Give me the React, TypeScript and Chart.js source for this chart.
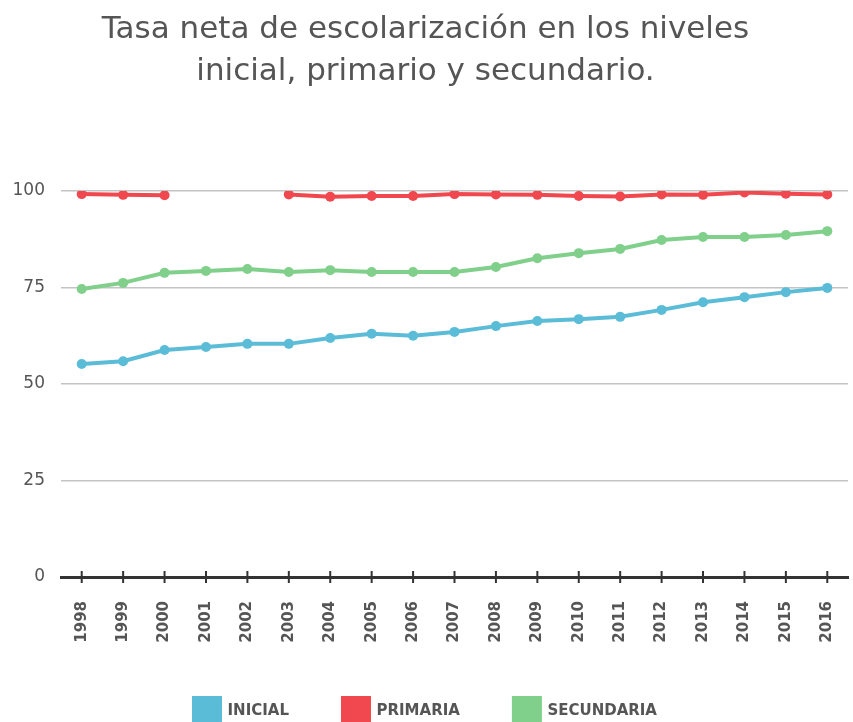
import React, { useEffect, useRef } from "react";
import { Chart, registerables } from "chart.js";

Chart.register(...registerables);

const years = ["1998","1999","2000","2001","2002","2003","2004","2005","2006","2007","2008","2009","2010","2011","2012","2013","2014","2015","2016"];
const inicial = [55.2, 55.9, 58.8, 59.6, 60.4, 60.4, 61.9, 63.0, 62.5, 63.5, 65.0, 66.3, 66.8, 67.4, 69.2, 71.2, 72.5, 73.8, 74.9];
const primaria: (number | null)[] = [99.2, 99.0, 98.9, null, null, 99.1, 98.5, 98.7, 98.7, 99.2, 99.1, 99.0, 98.7, 98.6, 99.1, 99.0, 99.6, 99.3, 99.1];
const secundaria = [74.6, 76.2, 78.8, 79.3, 79.8, 79.0, 79.5, 79.0, 79.0, 79.0, 80.3, 82.6, 83.9, 85.0, 87.3, 88.1, 88.1, 88.6, 89.6];
const yTicks = [0, 25, 50, 75, 100];
const titleLines = ["Tasa neta de escolarización en los niveles", "inicial, primario y secundario."];
const seriesNames = ["INICIAL", "PRIMARIA", "SECUNDARIA"];
const colors = ["#5bbcd8", "#f0484e", "#80cf8b"];

const crossTicks = {
  id: "crossTicks",
  afterDraw(chart: any) {
    const xs = chart.scales.x;
    const ctx = chart.ctx;
    const y = chart.chartArea.bottom;
    ctx.save();
    ctx.strokeStyle = "#333";
    ctx.lineWidth = 2;
    xs.ticks.forEach((_t: any, i: number) => {
      const x = xs.getPixelForTick(i);
      ctx.beginPath();
      ctx.moveTo(x, y - 6);
      ctx.lineTo(x, y + 6);
      ctx.stroke();
    });
    ctx.restore();
  },
};

export default function App() {
  const ref = useRef<HTMLCanvasElement>(null);
  useEffect(() => {
    document.body.style.margin = "0";
    const data = [inicial, primaria, secundaria];
    const chart = new Chart(ref.current!, {
      type: "line",
      data: {
        labels: years,
        datasets: seriesNames.map((name, i) => ({
          label: name,
          data: data[i] as any,
          borderColor: colors[i],
          backgroundColor: colors[i],
          pointBackgroundColor: colors[i],
          pointBorderColor: colors[i],
          borderWidth: 4,
          pointRadius: 5,
          pointBorderWidth: 0,
          spanGaps: false,
          tension: 0,
        })),
      },
      options: {
        responsive: false,
        animation: false,
        layout: { padding: { left: 0, right: 2, top: 0, bottom: -12 } },
        plugins: {
          title: {
            display: true,
            text: titleLines,
            color: "#555",
            font: { family: "DejaVu Sans", size: 31, weight: "normal", lineHeight: 1.355 },
            padding: { top: 9, bottom: 98 },
          },
          legend: {
            position: "bottom",
            labels: {
              boxWidth: 26,
              boxHeight: 26,
              padding: 54,
              color: "#555",
              font: { family: "DejaVu Sans", size: 15, weight: "bold" },
            },
          },
          tooltip: { enabled: false },
        },
        scales: {
          x: {
            offset: true,
            grid: { display: false },
            border: { display: true, color: "#333", width: 3 },
            ticks: {
              autoSkip: false,
              maxRotation: 90,
              minRotation: 90,
              padding: 16,
              color: "#555",
              font: { family: "DejaVu Sans", size: 15, weight: "bold" },
            },
            afterFit: (s: any) => { s.height = 67; s.paddingLeft = 0; s.paddingRight = 0; },
          },
          y: {
            min: 0,
            max: 100,
            afterBuildTicks: (s: any) => { s.ticks = yTicks.map((v) => ({ value: v })); },
            grid: { color: "#c4c4c4", lineWidth: 1.5, drawTicks: false },
            border: { display: false },
            ticks: {
              padding: 16,
              color: "#555",
              font: { family: "DejaVu Sans", size: 17 },
            },
            afterFit: (s: any) => { s.width = 61; },
          },
        },
      },
      plugins: [crossTicks],
    });
    return () => chart.destroy();
  }, []);
  return (
    <div style={{ width: 853, height: 722, background: "#fff" }}>
      <canvas ref={ref} width={853} height={722} />
    </div>
  );
}
